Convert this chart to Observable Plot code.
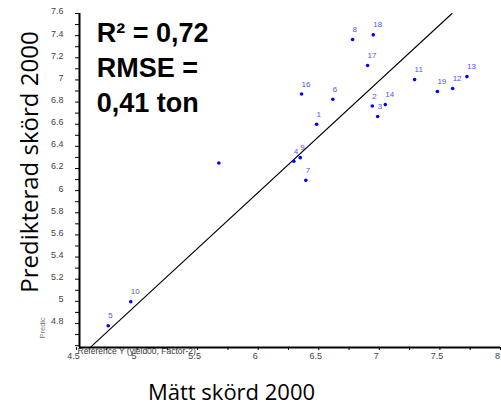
<!DOCTYPE html>
<html>
<head>
<meta charset="utf-8">
<script src="https://cdn.jsdelivr.net/npm/d3@7"></script>
<script src="https://cdn.jsdelivr.net/npm/@observablehq/plot@0.6"></script>
<style>
  html, body { margin: 0; padding: 0; background: #fff; }
</style>
</head>
<body>
<div id="chart"></div>
<script>
// Sample ids (15 has no visible label)
const sampleLabels = ["1","2","3","4","5","6","7","8","9","10","11","12","13","14","","16","17","18","19"];
// Measured yield 2000 (Reference Y)
const measured  = [6.482, 6.942, 6.986, 6.294, 4.762, 6.616, 6.393, 6.779, 6.347, 4.948, 7.291, 7.605, 7.723, 7.049, 5.675, 6.358, 6.903, 6.950, 7.479];
// Predicted yield 2000
const predicted = [6.599, 6.765, 6.669, 6.265, 4.779, 6.825, 6.093, 7.365, 6.298, 4.996, 7.003, 6.922, 7.030, 6.777, 6.249, 6.873, 7.130, 7.407, 6.895];

// Fitted line end points
const lineX = [4.61, 7.60];
const lineY = [4.58, 7.60];

// Axis domains and ticks
const xDomain = [4.525, 8];
const yDomain = [4.583, 7.6];
const xMajorTicks = [4.5, 5, 5.5, 6, 6.5, 7, 7.5, 8];
const xTickLabels = ["4.5", "5", "5.5", "6", "6.5", "7", "7.5", "8"];
const xMinorTicks = [4.75, 5.25, 5.75, 6.25, 6.75, 7.25, 7.75];
const yMajorTicks = [4.8, 5, 5.2, 5.4, 5.6, 5.8, 6, 6.2, 6.4, 6.6, 6.8, 7, 7.2, 7.4, 7.6];
const yTickLabels = ["4.8", "5", "5.2", "5.4", "5.6", "5.8", "6", "6.2", "6.4", "6.6", "6.8", "7", "7.2", "7.4", "7.6"];
const yMinorTicks = [4.6, 4.7, 4.9, 5.1, 5.3, 5.5, 5.7, 5.9, 6.1, 6.3, 6.5, 6.7, 6.9, 7.1, 7.3, 7.5];

// Texts
const statsText = "R² = 0,72\nRMSE =\n0,41 ton";
const xTitle = "Mätt skörd 2000";
const yTitle = "Predikterad skörd 2000";
const refText = "Reference Y (yield00, Factor-2)";
const predText = "Predic";

const points = measured.map((m, i) => ({x: m, y: predicted[i], label: sampleLabels[i]}));
const fitLine = lineX.map((x, i) => ({x, y: lineY[i]}));
const xLabelMap = new Map(xMajorTicks.map((t, i) => [t, xTickLabels[i]]));
const yLabelMap = new Map(yMajorTicks.map((t, i) => [t, yTickLabels[i]]));

const tickFont = "Liberation Sans, Arial, sans-serif";

const svg = Plot.plot({
  width: 501,
  height: 409,
  marginLeft: 79,
  marginRight: 1,
  marginTop: 13,
  marginBottom: 62,
  style: {fontFamily: tickFont, fontSize: "9px", background: "#fff", overflow: "visible"},
  x: {domain: xDomain, axis: null},
  y: {domain: yDomain, axis: null},
  marks: [
    // reference caption partly hidden by axis
    Plot.text([refText], {frameAnchor: "bottom-left", text: d => d, dx: -2, dy: 0, lineAnchor: "top",
      textAnchor: "start", fontSize: 8.5, fill: "#3a3a3a", fontFamily: tickFont}),
    Plot.text([predText], {frameAnchor: "bottom-left", text: d => d, rotate: -90, dx: -36.5, dy: -9,
      textAnchor: "start", lineAnchor: "middle", fontSize: 7.5, fill: "#777", fontFamily: tickFont}),
    // ticks
    Plot.axisY(yMajorTicks, {anchor: "left", tickSize: 4, text: null, label: null, stroke: "#000"}),
    Plot.axisY(yMinorTicks, {anchor: "left", tickSize: 4, text: null, label: null, stroke: "#000"}),
    Plot.axisY(yMajorTicks, {anchor: "left", tickSize: 0, tickPadding: 16, dy: -2, label: null,
      tickFormat: d => yLabelMap.get(d), fill: "#444", fontSize: 9}),
    Plot.axisX(xMajorTicks, {anchor: "bottom", tickSize: 3, text: null, label: null, stroke: "#000"}),
    Plot.axisX(xMinorTicks, {anchor: "bottom", tickSize: 3, text: null, label: null, stroke: "#000"}),
    Plot.axisX(xMajorTicks, {anchor: "bottom", tickSize: 0, tickPadding: 5, dx: -3, label: null,
      tickFormat: d => xLabelMap.get(d), fill: "#444", fontSize: 9}),
    // axis lines
    Plot.ruleX([xDomain[0]], {stroke: "#000", strokeWidth: 2}),
    Plot.ruleY([yDomain[0]], {stroke: "#000", strokeWidth: 2}),
    // fitted line
    Plot.line(fitLine, {x: "x", y: "y", stroke: "#000", strokeWidth: 1.1}),
    // points
    Plot.dot(points, {x: "x", y: "y", r: 1.8, fill: "#0000ff", stroke: null}),
    Plot.text(points, {x: "x", y: "y", text: "label", dy: -10, dx: 0, textAnchor: "start",
      fill: "#5050ff", fontSize: 8, fontFamily: tickFont}),
    // stats block
    Plot.text([statsText], {frameAnchor: "top-left", text: d => d, dx: 17.3, dy: 3.7, textAnchor: "start",
      lineAnchor: "top", lineHeight: 1.3, fontSize: 27, fontWeight: "bold", fill: "#000", fontFamily: tickFont}),
    // axis titles
    Plot.text([xTitle], {frameAnchor: "bottom", text: d => d, dx: -58.5, dy: 37, textAnchor: "middle",
      lineAnchor: "top", fontSize: 22, fill: "#000", fontFamily: "Open Sans, sans-serif", ariaLabel: "xtitle"}),
    Plot.text([yTitle], {frameAnchor: "left", text: d => d, rotate: -90, dx: -59, dy: -18.5, textAnchor: "middle",
      lineAnchor: "top", fontSize: 24, fill: "#000", fontFamily: "Open Sans, sans-serif", ariaLabel: "ytitle"})
  ]
});

d3.select(svg).select('g[aria-label="ytitle"] text')
  .attr("textLength", 187).attr("lengthAdjust", "spacingAndGlyphs");
d3.select(svg).select('g[aria-label="xtitle"] text')
  .attr("textLength", 165).attr("lengthAdjust", "spacingAndGlyphs");

document.getElementById("chart").appendChild(svg);
</script>
</body>
</html>
